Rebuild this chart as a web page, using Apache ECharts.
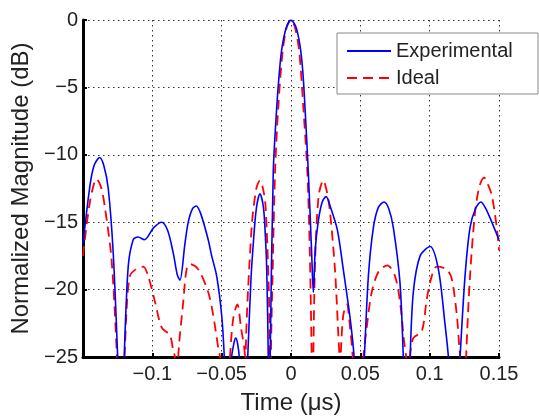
<!DOCTYPE html>
<html>
<head>
<meta charset="utf-8">
<script src="https://cdn.jsdelivr.net/npm/echarts@6/dist/echarts.min.js"></script>
<style>html,body{margin:0;padding:0;background:#fff;}#c{width:539px;height:420px;}</style>
</head>
<body>
<div id="c"></div>
<script>
// Experimental (blue, solid): time in µs, magnitude in dB (values below -25 are clipped nulls)
var expTime = [-0.1500,-0.1450,-0.1420,-0.1380,-0.1350,-0.1318,-0.1282,-0.1250,-0.1228,-0.1203,-0.1174,-0.1138,-0.1102,-0.1058,-0.0990,-0.0933,-0.0890,-0.0849,-0.0820,-0.0801,-0.0765,-0.0741,-0.0710,-0.0683,-0.0650,-0.0597,-0.0572,-0.0536,-0.0500,-0.0481,-0.0455,-0.0428,-0.0410,-0.0399,-0.0387,-0.0373,-0.0343,-0.0312,-0.0290,-0.0272,-0.0250,-0.0224,-0.0200,-0.0188,-0.0175,-0.0164,-0.0157,-0.0150,-0.0128,-0.0103,-0.0085,-0.0067,-0.0035,0.0000,0.0035,0.0065,0.0085,0.0101,0.0125,0.0149,0.0161,0.0175,0.0197,0.0225,0.0253,0.0285,0.0335,0.0377,0.0426,0.0455,0.0492,0.0529,0.0558,0.0594,0.0630,0.0671,0.0705,0.0738,0.0786,0.0810,0.0835,0.0859,0.0882,0.0931,0.1003,0.1063,0.1111,0.1135,0.1177,0.1219,0.1255,0.1291,0.1330,0.1369,0.1400,0.1436,0.1500];
var expDb   = [-16.6,-12.3,-10.8,-10.2,-10.8,-12.5,-17.3,-25,-32,-25,-18.3,-16.3,-16.1,-16.3,-15.4,-15.0,-15.6,-17.3,-18.9,-19.3,-16.6,-15.0,-14.0,-13.8,-14.4,-16.3,-17.5,-19.0,-21.9,-25,-32,-25,-23.9,-23.6,-23.9,-25,-32,-25,-19.5,-16.6,-14.0,-12.9,-13.8,-15.4,-18.5,-25,-32,-25,-11.3,-6.5,-4.0,-2.2,-0.6,0,-0.5,-1.9,-3.8,-6.5,-11.3,-17.3,-20.2,-17.0,-14.9,-13.5,-13.1,-13.9,-15.6,-18.5,-22.1,-25,-32,-25,-19.0,-15.4,-13.9,-13.5,-14.0,-15.4,-19.5,-25,-32,-25,-20.2,-17.5,-16.8,-18.5,-22.6,-25,-32,-25,-19.0,-15.4,-14.0,-13.5,-13.9,-14.7,-16.3];

// Ideal (red, dashed)
var idealTime = [-0.1500,-0.1450,-0.1402,-0.1370,-0.1342,-0.1294,-0.1255,-0.1228,-0.1200,-0.1185,-0.1162,-0.1120,-0.1066,-0.1030,-0.0981,-0.0933,-0.0873,-0.0850,-0.0837,-0.0825,-0.0813,-0.0777,-0.0753,-0.0729,-0.0669,-0.0597,-0.0561,-0.0525,-0.0512,-0.0476,-0.0440,-0.0416,-0.0387,-0.0361,-0.0332,-0.0330,-0.0327,-0.0284,-0.0250,-0.0224,-0.0200,-0.0183,-0.0160,-0.0152,-0.0149,-0.0145,-0.0132,-0.0115,-0.0092,-0.0060,-0.0030,0.0000,0.0030,0.0060,0.0089,0.0118,0.0135,0.0149,0.0155,0.0161,0.0175,0.0200,0.0233,0.0260,0.0281,0.0317,0.0341,0.0349,0.0354,0.0359,0.0377,0.0402,0.0426,0.0445,0.0483,0.0522,0.0546,0.0582,0.0630,0.0695,0.0750,0.0786,0.0815,0.0830,0.0845,0.0859,0.0882,0.0943,0.0979,0.1015,0.1051,0.1123,0.1159,0.1196,0.1214,0.1220,0.1241,0.1263,0.1291,0.1328,0.1360,0.1393,0.1420,0.1448,0.1484,0.1500];
var idealDb   = [-17.5,-13.5,-11.8,-12.4,-13.9,-17.8,-25,-32,-25,-21.4,-19.0,-18.5,-18.3,-19.0,-20.9,-22.8,-23.4,-24.5,-25,-32,-25,-20.9,-18.5,-18.1,-18.5,-20.2,-21.9,-24.3,-25,-32,-25,-22.1,-21.1,-22.8,-25,-32,-25,-15.4,-12.5,-11.9,-12.6,-13.9,-20,-25,-32,-25,-18.5,-11.3,-6.5,-2.3,-0.5,0,-0.6,-2.4,-6.5,-11.3,-17,-25,-32,-25,-17.5,-13.0,-11.9,-12.8,-14.2,-18.5,-23.3,-25,-32,-25,-21.9,-21.1,-22.8,-25,-32,-25,-22.8,-20.2,-18.7,-18.2,-19.0,-20.9,-23.8,-25,-32,-25,-23.6,-23.1,-20.7,-19.0,-18.3,-18.5,-19.2,-21.9,-24.3,-25,-32,-25,-19.0,-14.2,-12.3,-11.7,-12.2,-13.0,-15.4,-17.1];

var seriesNames = ['Experimental', 'Ideal'];
var xTicks = [-0.15, -0.1, -0.05, 0, 0.05, 0.1, 0.15];
var yTicks = [-25, -20, -15, -10, -5, 0];

function pairs(xs, ys) { return xs.map(function (x, i) { return [x, ys[i]]; }); }
function fmt(v) {
  var s = String(Number(v.toFixed(2)));
  return s.replace('-', '\u2212');
}
var FONT = 'Liberation Sans, Arial, Helvetica, sans-serif';
var TXT = '#222';

var chart = echarts.init(document.getElementById('c'), null, {renderer: 'canvas'});
chart.setOption({
  animation: false,
  backgroundColor: '#fff',
  grid: {left: 83, right: 40, top: 20, bottom: 53.5, containLabel: false},
  graphic: [{
    type: 'rect', z: 3, silent: true,
    shape: {x: 337, y: 33, width: 201, height: 61},
    style: {fill: '#fff', stroke: '#888', lineWidth: 1}
  }],
  legend: {
    orient: 'vertical',
    left: 337, top: 34, z: 5,
    padding: [7, 10, 7, 9],
    itemGap: 7,
    itemWidth: 44, itemHeight: 20,
    itemStyle: {opacity: 0},
    textStyle: {fontFamily: FONT, fontSize: 20, color: TXT, lineHeight: 20},
    data: seriesNames
  },
  xAxis: {
    type: 'value', min: xTicks[0], max: xTicks[xTicks.length - 1], interval: 0.05,
    name: 'Time (\u03bcs)', nameLocation: 'middle', nameGap: 34,
    nameTextStyle: {fontFamily: FONT, fontSize: 24, color: TXT},
    axisLine: {show: true, onZero: false, lineStyle: {color: '#000', width: 3}},
    axisTick: {show: true, inside: true, length: 4, lineStyle: {color: '#000', width: 2}},
    axisLabel: {fontFamily: FONT, fontSize: 20, color: TXT, margin: 7,
      formatter: function (v) { return Math.abs(v + 0.15) < 1e-9 ? '' : fmt(v); }},
    splitLine: {show: true, lineStyle: {color: '#333', width: 1, type: [1.5, 3.5]}}
  },
  yAxis: {
    type: 'value', min: yTicks[0], max: yTicks[yTicks.length - 1], interval: 5,
    name: 'Normalized Magnitude (dB)', nameLocation: 'middle', nameGap: 32,
    nameTextStyle: {fontFamily: FONT, fontSize: 24, color: TXT},
    axisLine: {show: true, onZero: false, lineStyle: {color: '#000', width: 3}},
    axisTick: {show: true, inside: true, length: 4, lineStyle: {color: '#000', width: 2}},
    axisLabel: {fontFamily: FONT, fontSize: 20, color: TXT, margin: 5, formatter: fmt},
    splitLine: {show: true, lineStyle: {color: '#333', width: 1, type: [1.5, 3.5]}}
  },
  series: [
    {name: seriesNames[0], type: 'line', data: pairs(expTime, expDb), symbol: 'none', smooth: 0.3,
     clip: true, color: '#0000ff', lineStyle: {color: '#0000ff', width: 1.6}, z: 3},
    {name: seriesNames[1], type: 'line', data: pairs(idealTime, idealDb), symbol: 'none', smooth: 0.3,
     clip: true, color: '#ff0000', lineStyle: {color: '#ff0000', width: 1.8, type: [10, 6]}, z: 2}
  ]
});
</script>
</body>
</html>
